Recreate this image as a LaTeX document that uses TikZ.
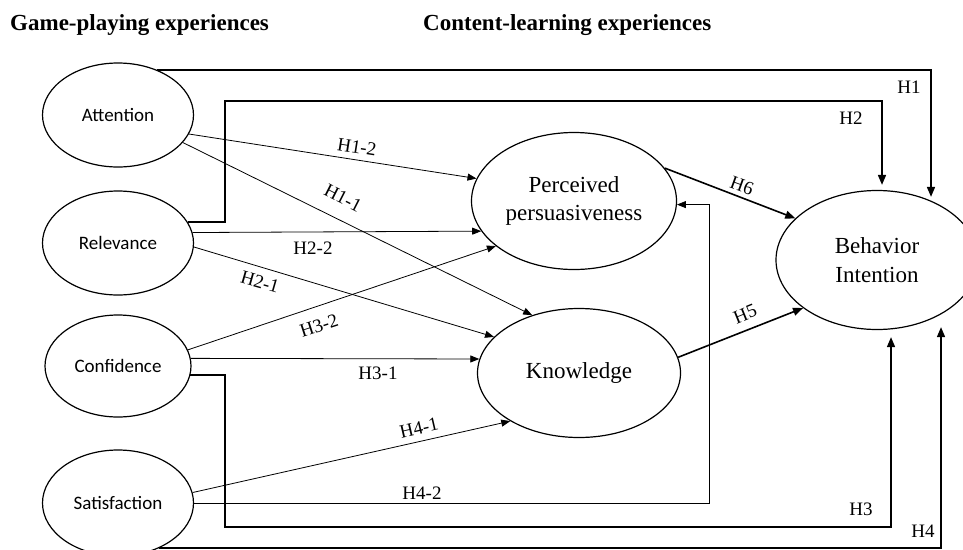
\documentclass[tikz,border=0pt]{standalone}
\usepackage{fontspec}
\setmainfont{Liberation Serif}
\newfontfamily\calib{Carlito}
\newfontfamily\tnr{Liberation Serif}
\usetikzlibrary{arrows.meta,calc,shapes.geometric}
\begin{document}
\begin{tikzpicture}[x=1pt,y=-1pt,
  el/.style={draw,ellipse,line width=1.2pt,inner sep=0pt,align=center},
  smallel/.style={el,font=\calib\fontsize{19}{22}\selectfont,minimum width=151pt,minimum height=104pt},
  bigel/.style={el,font=\tnr\fontsize{23}{28.5}\selectfont},
  thinarr/.style={line width=0.8pt,-{Triangle[length=9pt,width=7pt]}},
  thickarr/.style={line width=1.6pt,-{Triangle[length=10pt,width=8pt]}},
  lab/.style={font=\tnr\fontsize{19}{22}\selectfont,inner sep=0pt},
  hdr/.style={font=\tnr\bfseries\fontsize{23}{27}\selectfont,inner sep=0pt}]
\useasboundingbox (0,0) rectangle (963,549);

% headers
\node[hdr,anchor=west] (hg) at (10,25) {Game-playing experiences};
\node[hdr,anchor=west] (hc) at (423,25) {Content-learning experiences};

% left constructs
\node[smallel] (att) at (118,115) {Attention};
\node[smallel] (rel) at (118,243) {Relevance};
\node[smallel,minimum width=146pt,minimum height=102pt] (con) at (118,366) {Confidence};
\node[smallel,minimum height=106pt] (sat) at (118,503) {Satisfaction};

% right constructs
\node[bigel,minimum width=205pt,minimum height=137pt] (pp) at (574,201) {Perceived\\persuasiveness};
\node[bigel,minimum width=203pt,minimum height=129pt] (kn) at (579,373) {Knowledge};
\node[bigel,minimum width=202pt,minimum height=139pt] (bi) at (877,260) {Behavior\\Intention};

% thin paths
\draw[thinarr] (att.-15) -- (pp.167);
\draw[thinarr] (att.-23) -- (kn.129);
\draw[thinarr] (rel.8) -- (pp.198);
\draw[thinarr] (rel.-3) -- (kn.157);
\draw[thinarr] (con.13) -- (pp.210);
\draw[thinarr] (con.6) -- (kn.172);
\draw[thinarr] (sat.8) -- (kn.215);
\draw[thinarr] (sat.0) -| ($(pp.-2)+(32,0)$) -- (pp.-2);

% thick paths
\draw[thickarr] (pp.20) -- (bi.153);
\draw[thickarr] (kn.9) -- (bi.213);

\coordinate (h1e) at ($(bi.north)+(54,7)$);
\draw[thickarr] (att.49) -| (h1e);
\coordinate (h2c) at (225,101);
\coordinate (h2e) at ($(bi.north)+(5,-5)$);
\draw[thickarr] (rel.17) -| (h2c) -| (h2e);
\coordinate (h3c) at (225,527);
\coordinate (h3e) at ($(bi.south)+(14,7)$);
\draw[thickarr] (con.-7) -| (h3c) -| (h3e);
\coordinate (h4e) at ($(bi.south)+(64,-3)$);
\draw[thickarr] (sat.-48) -| (h4e);

% labels
\node[lab] (l1) at (909,87) {H1};
\node[lab] (l2) at (851,118) {H2};
\node[lab] (l3) at (861,509) {H3};
\node[lab] (l4) at (923,531) {H4};
\node[lab,rotate=-9] (l12) at (357,147) {H1-2};
\node[lab,rotate=-27] (l11) at (343,198) {H1-1};
\node[lab] (l22) at (313,248) {H2-2};
\node[lab,rotate=-16] (l21) at (260,282) {H2-1};
\node[lab,rotate=18] (l32) at (319,326) {H3-2};
\node[lab] (l31) at (378,373) {H3-1};
\node[lab,rotate=13] (l41) at (419,428) {H4-1};
\node[lab] (l42) at (422,493) {H4-2};
\node[lab,rotate=-20] (l6) at (742,186) {H6};
\node[lab,rotate=22] (l5) at (745,314) {H5};
\end{tikzpicture}
\end{document}
